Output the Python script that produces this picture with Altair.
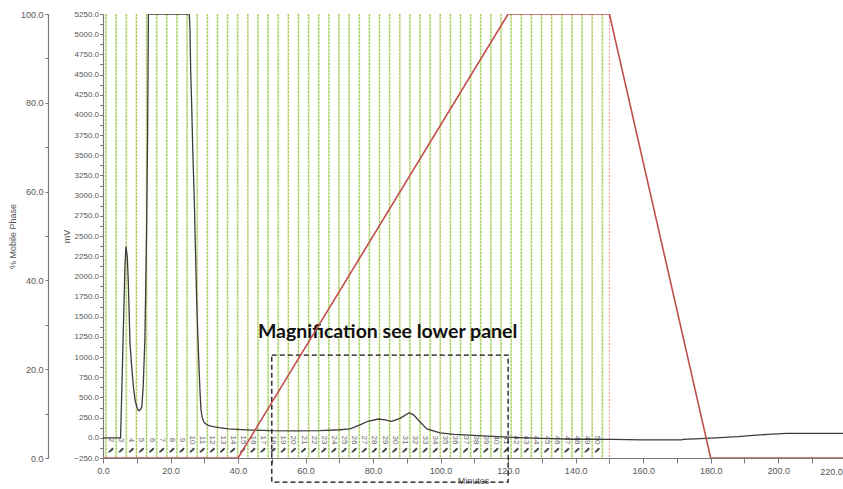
import altair as alt
import pandas as pd

# Detector response (mV) against run time (minutes)
trace_min = [0, 5.2, 5.5, 6.0, 6.5, 6.8, 7.2, 7.5, 8.0, 8.5, 9.0, 9.5, 10.0,
             10.4, 10.7, 11.1, 11.5, 11.9, 12.4, 12.6, 12.9, 13.2, 13.45,
             25.56, 25.77, 25.98, 26.27, 26.6, 27.04, 27.4, 27.75, 28.1,
             28.44, 28.75, 29.03, 29.4, 29.8, 30.21, 31.0, 31.7, 32.67,
             34.45, 37.0, 39.6, 44.0, 49.5, 57.0, 64.3, 70.2, 73.2, 76.1,
             78.5, 81.6, 83.5, 85.5, 88.0, 90.7, 92.0, 93.4, 95.9, 99.8,
             104.0, 109.7, 114.0, 119.6, 130.0, 139.3, 151.0, 160.0, 171.4,
             171.8, 177.0, 182.8, 188.0, 192.6, 197.0, 202.5, 210.0, 220.0]
trace_mv = [0, 0, 470, 1300, 2120, 2370, 2240, 1920, 1170, 880, 633, 470, 385,
            345, 336, 350, 385, 633, 1210, 1707, 2537, 3700, 5250,
            5250, 5053, 4520, 4124, 3550, 2947, 2300, 1707, 1250,
            880, 560, 344, 250, 205, 180, 158, 148, 138,
            125, 112, 105, 96, 88, 86, 88, 100, 112, 160,
            205, 233, 222, 203, 241, 311, 285, 220, 110, 60,
            42, 31, 20, 8, -8, -18, -20, -25, -25,
            -19, -10, 2, 15, 31, 43, 56, 56, 56]

# Mobile phase gradient (% B)
grad_min = [0, 40, 120, 150, 180, 220]
grad_pct = [0, 0, 100, 100, 0, 0]

# Fraction collector: start time of each tube (minutes) and tube numbers
frac_start = [0.9, 3.9, 6.9, 9.9, 12.9, 15.9, 18.9, 21.9, 24.9, 27.9,
              30.9, 33.9, 36.9, 39.9, 42.9, 45.9, 48.9, 51.9, 54.9, 57.9,
              60.9, 63.9, 66.9, 69.9, 72.9, 75.9, 78.9, 81.9, 84.9, 87.9,
              90.9, 93.9, 96.9, 99.9, 102.9, 105.9, 108.9, 111.9, 114.9, 117.9,
              120.9, 123.9, 126.9, 129.9, 132.9, 135.9, 138.9, 141.9, 144.9, 147.9]
tube_numbers = list(range(2, 51))

# End of the gradient hold
hold_end = [150]

# Region shown enlarged in the lower panel
zoom_min = [50, 120]
zoom_mv = [1025, -548]
note_text = ["Magnification see lower panel"]
note_min = [84.3]
note_mv = [1233]

x_ticks = list(range(0, 220, 10))
mv_ticks = list(range(-250, 5251, 125))
pct_ticks = list(range(0, 101, 10))

trace = pd.DataFrame({"t": trace_min, "mv": trace_mv})
grad = pd.DataFrame({"t": grad_min, "pct": grad_pct})
fractions = pd.DataFrame({"t": frac_start})
tubes = pd.DataFrame({
    "t": [frac_start[n - 2] + 1.5 for n in tube_numbers],
    "n": [str(n) for n in tube_numbers],
})
hold = pd.DataFrame({"t": hold_end})
box = pd.DataFrame({"t": [zoom_min[0]], "t2": [zoom_min[1]],
                    "y": [zoom_mv[0]], "y2": [zoom_mv[1]]})
note = pd.DataFrame({"t": note_min, "mv": note_mv, "txt": note_text})
end_label = pd.DataFrame({"t": [220], "txt": ["220.0"]})

PLOT_W, PLOT_H = 740, 444
AXIS_GREY = "#7a7a7a"
LABEL_GREY = "#555555"
FONT = "Liberation Sans"

x_scale = alt.Scale(domain=[0, PLOT_W / 3.376], nice=False, zero=False)
mv_scale = alt.Scale(domain=[-250, 5250], nice=False, zero=False)
pct_scale = alt.Scale(domain=[0, 100], nice=False, zero=False)

x_axis = alt.Axis(
    values=x_ticks, title="Minutes", grid=False, labelFlush=False,
    labelOverlap=False,
    labelExpr="datum.value % 20 == 0 ? format(datum.value, '.1f') : ''",
    tickSize=5, labelPadding=3, titlePadding=1,
)
mv_axis = alt.Axis(
    values=mv_ticks, title="mV", grid=False, orient="left",
    labelOverlap=False, labelBound=False,
    labelExpr="datum.value % 250 == 0 ? format(datum.value, '.1f') : ''",
    tickSize=3.5, labelPadding=1, titlePadding=2, labelFontSize=8,
)
pct_axis = alt.Axis(
    values=pct_ticks, title="% Mobile Phase", grid=False, orient="left",
    offset=55, labelOverlap=False,
    labelExpr="datum.value % 20 == 0 ? format(datum.value, '.1f') : ''",
    tickSize=3, labelPadding=2, titlePadding=3,
)

X = alt.X("t:Q", scale=x_scale, axis=x_axis)

# Fraction boundaries: pale band with a dotted olive line on top
frac_band = alt.Chart(fractions).mark_rule(color="#dcefc2", strokeWidth=2).encode(x=X)
frac_line = alt.Chart(fractions).mark_rule(
    color="#a3c04e", strokeWidth=1, strokeDash=[2, 1.5]).encode(x=X)
hold_line = alt.Chart(hold).mark_rule(
    color="#ff8c8c", strokeWidth=1, strokeDash=[2, 1.5]).encode(x=X)

tube_text = alt.Chart(tubes).mark_text(
    angle=90, fontSize=8, font=FONT, color="#666666", align="center",
    baseline="middle").encode(x=X, y=alt.value(426), text="n:N")
tube_icon = alt.Chart(tubes).mark_point(
    shape="M -1 0.6 L 0.2 -0.6 Q 0.6 -1 0.9 -0.6 Q 1 -0.3 0.7 0 L -0.4 0.9 Q -1 1.1 -1 0.6 Z M 0.5 0.5 L 0.9 0.9",
    size=30, filled=True, color="#333333", opacity=0.9,
).encode(x=X, y=alt.value(436))

trace_line = alt.Chart(trace).mark_line(
    color="#3c3c3c", strokeWidth=1.3, clip=True).encode(
    x=X, y=alt.Y("mv:Q", scale=mv_scale, axis=mv_axis))

zoom_box = alt.Chart(box).mark_rect(
    fillOpacity=0, stroke="#111111", strokeWidth=1.3, strokeDash=[5, 3],
    clip=False).encode(
    x=X, x2="t2:Q", y=alt.Y("y:Q", scale=mv_scale, axis=mv_axis), y2="y2:Q")

note_mark = alt.Chart(note).mark_text(
    font="Lato", fontWeight="bold", fontSize=19.5, color="#111111",
    align="center", baseline="alphabetic").encode(
    x=X, y=alt.Y("mv:Q", scale=mv_scale, axis=mv_axis), text="txt:N")

end_tick_label = alt.Chart(end_label).mark_text(
    font=FONT, fontSize=9, color=LABEL_GREY, align="right", dx=-3,
    baseline="middle", clip=False).encode(x=X, y=alt.value(PLOT_H + 14), text="txt:N")

signal = alt.layer(frac_band, frac_line, hold_line, tube_text, tube_icon,
                   trace_line, zoom_box, note_mark, end_tick_label)

gradient = alt.Chart(grad).mark_line(
    color="#c0504d", strokeWidth=1.6, clip=True).encode(
    x=X, y=alt.Y("pct:Q", scale=pct_scale, axis=pct_axis))

chart = alt.layer(signal, gradient).resolve_scale(y="independent").properties(
    width=PLOT_W, height=PLOT_H,
    autosize=alt.AutoSizeParams(type="none"),
    padding={"left": 103, "top": 14, "right": 0, "bottom": 31},
).configure_view(strokeWidth=0).configure_axis(
    domainColor=AXIS_GREY, tickColor=AXIS_GREY, labelColor=LABEL_GREY,
    titleColor=LABEL_GREY, labelFont=FONT, titleFont=FONT, labelFontSize=9,
    titleFontSize=9, titleFontWeight="normal", domainWidth=1.2,
)

chart.save("out.html", embed_options={"renderer": "svg", "actions": False})
